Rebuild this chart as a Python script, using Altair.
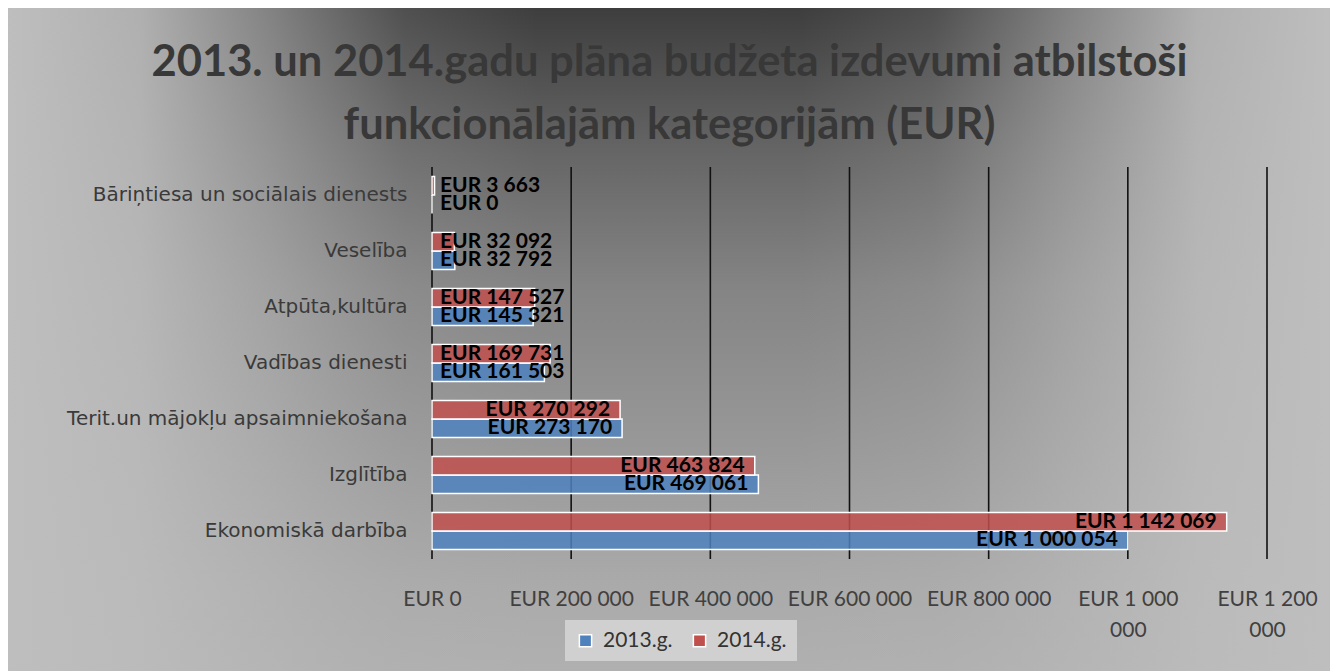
import json
import altair as alt
import pandas as pd

categories = [
    "Bāriņtiesa un sociālais dienests",
    "Veselība",
    "Atpūta,kultūra",
    "Vadības dienesti",
    "Terit.un mājokļu apsaimniekošana",
    "Izglītība",
    "Ekonomiskā darbība",
]
series = ["2013.g.", "2014.g."]
values_2013 = [0, 32792, 145321, 161503, 273170, 469061, 1000054]
values_2014 = [3663, 32092, 147527, 169731, 270292, 463824, 1142069]
tick_values = [0, 200000, 400000, 600000, 800000, 1000000, 1200000]
tick_labels = [["EUR 0"], ["EUR 200 000"], ["EUR 400 000"], ["EUR 600 000"],
               ["EUR 800 000"], ["EUR 1 000", "000"], ["EUR 1 200", "000"]]
colors = ["#4F81BD", "#C0504D"]

rows = []
for c, a, b in zip(categories, values_2013, values_2014):
    rows.append({"cat": c, "year": series[0], "value": a})
    rows.append({"cat": c, "year": series[1], "value": b})
df = pd.DataFrame(rows)
df["label"] = df["value"].apply(lambda v: "EUR " + f"{v:,}".replace(",", " "))

W, H = 835, 392
PL, PT, PR, PB = 424, 159, 63, 112

# decorative background (gradient)
bg_vertical = alt.Chart(alt.Data(values=[{}])).mark_rect(
    fill={
        "gradient": "linear", "x1": 0, "y1": 0, "x2": 0, "y2": 1,
        "stops": [
            {"offset": 0.0, "color": "#3e3e3e"},
            {"offset": 0.22, "color": "#666666"},
            {"offset": 0.42, "color": "#848484"},
            {"offset": 0.87, "color": "#aaaaaa"},
            {"offset": 1.0, "color": "#b0b0b0"},
        ],
    }
).encode(x=alt.value(-PL), x2=alt.value(W + PR), y=alt.value(-PT), y2=alt.value(H + PB))

bg_sides = alt.Chart(alt.Data(values=[{}])).mark_rect(
    fill={
        "gradient": "linear", "x1": 0, "y1": 0, "x2": 1, "y2": 0,
        "stops": [
            {"offset": 0.0, "color": "rgba(190,190,190,1)"},
            {"offset": 0.1, "color": "rgba(188,188,188,0.9)"},
            {"offset": 0.2, "color": "rgba(185,185,185,0.55)"},
            {"offset": 0.3, "color": "rgba(180,180,180,0.15)"},
            {"offset": 0.4, "color": "rgba(180,180,180,0)"},
            {"offset": 0.6, "color": "rgba(180,180,180,0)"},
            {"offset": 0.7, "color": "rgba(180,180,180,0.15)"},
            {"offset": 0.8, "color": "rgba(185,185,185,0.55)"},
            {"offset": 0.9, "color": "rgba(188,188,188,0.9)"},
            {"offset": 1.0, "color": "rgba(190,190,190,1)"},
        ],
    }
).encode(x=alt.value(-PL), x2=alt.value(W + PR), y=alt.value(-PT), y2=alt.value(H + PB))

xscale = alt.Scale(domain=[0, 1200000], nice=False, zero=True)

grid = alt.Chart(alt.Data(values=[{"v": t} for t in tick_values])).mark_rule(
    color="#111111", strokeWidth=1.6
).encode(x=alt.X("v:Q", scale=xscale, title=None))

label_expr = f"{json.dumps(tick_labels)}[round(datum.value / 200000)]"

base = alt.Chart(df).encode(
    y=alt.Y("cat:N", sort=categories, title=None,
            scale=alt.Scale(paddingInner=0.34, paddingOuter=0.17),
            axis=alt.Axis(domain=False, ticks=False, labelPadding=25, zindex=1,
                          labelFont="DejaVu Sans", labelFontSize=20,
                          labelColor="#3a3a3a", labelLimit=420)),
    yOffset=alt.YOffset("year:N", sort=[series[1], series[0]]),
)

bars = base.mark_bar(fillOpacity=0.85, stroke="white", strokeWidth=1.5).encode(
    x=alt.X("value:Q", scale=xscale, title=None,
            axis=alt.Axis(values=tick_values, labelExpr=label_expr, domain=False,
                          ticks=False, grid=False, labelFlush=False, labelOverlap=False,
                          labelPadding=29, labelFont="Lato", labelFontSize=21, zindex=1,
                          labelColor="#404040", labelLineHeight=31)),
    color=alt.Color("year:N", scale=alt.Scale(domain=series, range=colors),
                    legend=alt.Legend(title=None, orient="none", legendX=133, legendY=453,
                                      direction="horizontal", fillColor="#d0d0d0",
                                      padding=10, labelFont="Lato", labelFontSize=21,
                                      labelColor="#333333", symbolType="square",
                                      symbolSize=150, symbolStrokeColor="white",
                                      symbolStrokeWidth=1.5, symbolOpacity=1,
                                      columnPadding=16, labelOffset=7)),
)

text_small = base.transform_filter(alt.datum.value < 200000).mark_text(
    align="left", dx=8, font="Lato", fontWeight="bold", fontSize=21, color="black"
).encode(x=alt.value(0), text="label:N")

text_large = base.transform_filter(alt.datum.value >= 200000).mark_text(
    align="right", dx=-10, font="Lato", fontWeight="bold", fontSize=21, color="black"
).encode(x=alt.X("value:Q", scale=xscale), text="label:N")

chart = alt.layer(bg_vertical, bg_sides, grid, bars, text_small, text_large).properties(
    width=W, height=H,
    title=alt.TitleParams(
        text=["2013. un 2014.gadu plāna budžeta izdevumi atbilstoši",
              "funkcionālajām kategorijām (EUR)"],
        font="Lato", fontSize=43.5, fontWeight="bold", color="#383838",
        anchor="middle", dx=-180, dy=154, offset=14, lineHeight=63,
    ),
    autosize=alt.AutoSizeParams(type="none"),
    padding={"left": PL, "top": PT, "right": PR, "bottom": PB},
).configure_view(stroke=None).configure(background="white")

chart.save("out.html", embed_options={"renderer": "svg", "actions": False})
